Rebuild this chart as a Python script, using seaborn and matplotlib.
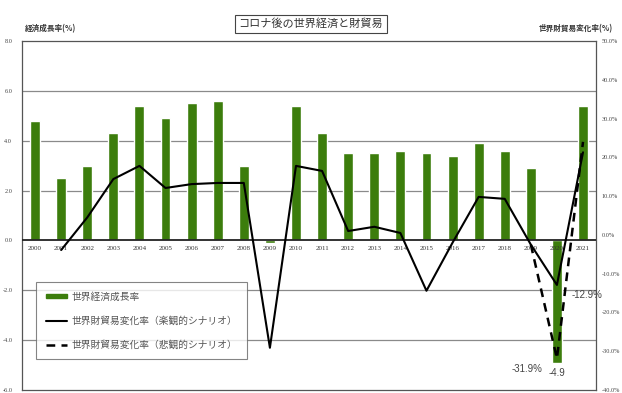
import matplotlib
matplotlib.use("Agg")
import matplotlib.pyplot as plt
import seaborn as sns
import numpy as np
import pandas as pd
from matplotlib.patches import Patch
from matplotlib.lines import Line2D

# ---- data ----
YEARS = [str(y) for y in range(2000, 2022)]
GDP_GROWTH = [4.8, 2.5, 3.0, 4.3, 5.4, 4.9, 5.5, 5.6, 3.0, -0.1, 5.4, 4.3,
              3.5, 3.5, 3.6, 3.5, 3.4, 3.9, 3.6, 2.9, -4.9, 5.4]
TRADE_YEARS_OPT = [str(y) for y in range(2001, 2022)]
TRADE_OPT = [-3.9, 4.5, 14.4, 17.8, 12.1, 13.1, 13.4, 13.4, -29.1, 17.8, 16.5,
             1.0, 2.1, 0.5, -14.4, -2.0, 9.8, 9.3, -2.5, -12.9, 21.3]
TRADE_YEARS_PES = ["2019", "2020", "2021"]
TRADE_PES = [-2.5, -31.9, 24.0]
LEFT_TICKS = [-6, -4, -2, 0, 2, 4, 6, 8]
RIGHT_TICKS = [-40, -30, -20, -10, 0, 10, 20, 30, 40, 50]

TITLE = "コロナ後の世界経済と財貿易"
LEFT_LABEL = "経済成長率(%)"
RIGHT_LABEL = "世界財貿易変化率(%)"
LEG_BAR = "世界経済成長率"
LEG_OPT = "世界財貿易変化率（楽観的シナリオ）"
LEG_PES = "世界財貿易変化率（悲観的シナリオ）"

sns.set_theme(style="white")
plt.rcParams['font.family'] = ['Noto Sans CJK JP', 'DejaVu Sans']

GREEN = "#3c7d0c"

fig = plt.figure(figsize=(6.22, 3.93), dpi=100)
ax = fig.add_axes([0.0354, 0.0076, 0.9229, 0.888])

df = pd.DataFrame({"year": YEARS, "gdp": GDP_GROWTH})
sns.barplot(data=df, x="year", y="gdp", color=GREEN, saturation=1,
            width=0.38, ax=ax, zorder=3)

ax.set_xlim(-0.5, len(YEARS) - 0.5)
ax.set_ylim(-6, 8)
ax.set_xlabel("")
ax.set_ylabel("")
ax.set_xticks([])
ax.set_yticks(LEFT_TICKS)
ax.set_yticklabels([f"{v:.1f}" for v in LEFT_TICKS], fontsize=4.5,
                   family="Liberation Serif", color="#444444")
ax.tick_params(axis="y", length=0, pad=7)
for v in LEFT_TICKS:
    if v in (-6, 8):
        continue
    ax.axhline(v, color="#222222" if v == 0 else "#8a8a8a",
               lw=1.3 if v == 0 else 0.9, zorder=1 if v != 0 else 3.5)
for s in ax.spines.values():
    s.set_color("#555555")
    s.set_linewidth(0.9)
if ax.legend_:
    ax.legend_.remove()

# year labels just under the zero line
for i, y in enumerate(YEARS):
    ax.text(i, -0.22, y, ha="center", va="top", fontsize=5,
            family="Liberation Serif", color="#333333", zorder=4)

# ---- right axis: trade ----
ax2 = ax.twinx()
ax2.set_ylim(-40, 50)
opt = pd.DataFrame({"x": [YEARS.index(y) for y in TRADE_YEARS_OPT], "v": TRADE_OPT})
pes = pd.DataFrame({"x": [YEARS.index(y) for y in TRADE_YEARS_PES], "v": TRADE_PES})
sns.lineplot(data=pes, x="x", y="v", ax=ax2, color="black", lw=1.8,
             linestyle=(0, (3.5, 2.5)), zorder=5)
sns.lineplot(data=opt, x="x", y="v", ax=ax2, color="black", lw=1.5, zorder=6)
ax2.set_xlim(-0.5, len(YEARS) - 0.5)
ax2.set_xlabel("")
ax2.set_ylabel("")
ax2.set_yticks(RIGHT_TICKS)
ax2.set_yticklabels([f"{v:.1f}%" for v in RIGHT_TICKS], fontsize=4.5,
                    family="Liberation Serif", color="#444444")
ax2.tick_params(axis="y", length=0, pad=4)
for s in ax2.spines.values():
    s.set_visible(False)

# data labels
i2020 = YEARS.index("2020")
ax2.text(i2020 - 0.55, TRADE_PES[1] - 1.5, f"{TRADE_PES[1]:.1f}%", ha="right",
         va="top", fontsize=7, color="#444444", family="Liberation Sans")
ax2.text(i2020 + 1.15, TRADE_OPT[-2] - 2.5, f"{TRADE_OPT[-2]:.1f}%", ha="center",
         va="center", fontsize=7, color="#444444", family="Liberation Sans")
ax.text(i2020, GDP_GROWTH[i2020] - 0.2, f"{GDP_GROWTH[i2020]:.1f}", ha="center",
        va="top", fontsize=7, color="#444444", family="Liberation Sans")

# legend
handles = [Patch(facecolor=GREEN, edgecolor=GREEN),
           Line2D([], [], color="black", lw=1.5),
           Line2D([], [], color="black", lw=1.8, linestyle=(0, (3.5, 2.5)))]
leg = ax2.legend(handles, [LEG_BAR, LEG_OPT, LEG_PES], loc="upper left",
                 bbox_to_anchor=(0.025, 0.31), frameon=True, fancybox=False,
                 fontsize=7, labelspacing=1.45, handlelength=2.2,
                 handleheight=0.35, borderpad=1.0, borderaxespad=0,
                 handletextpad=0.4)
leg.get_frame().set_edgecolor("#666666")
leg.get_frame().set_linewidth(0.8)
for t in leg.get_texts():
    t.set_color("#555555")

# titles
fig.text(0.5, 0.939, TITLE, ha="center", va="center", fontsize=8,
         color="#333333",
         bbox=dict(boxstyle="square,pad=0.3", fc="white", ec="#444444", lw=0.8))
fig.text(0.040, 0.928, LEFT_LABEL, ha="left", va="center", fontsize=5.5,
         color="#333333", weight="bold")
fig.text(0.985, 0.926, RIGHT_LABEL, ha="right", va="center", fontsize=5.5,
         color="#333333", weight="bold")

fig.savefig("out.png", dpi=100)
